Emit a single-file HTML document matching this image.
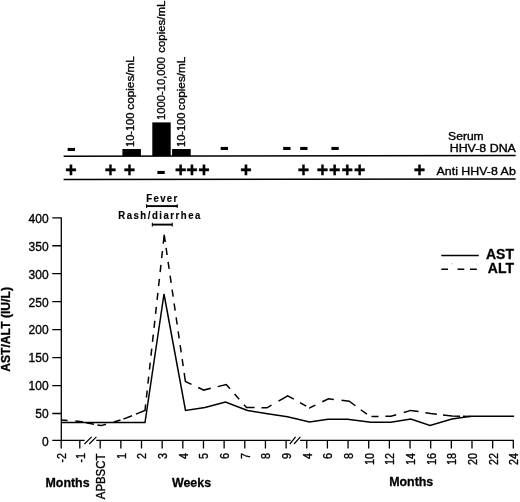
<!DOCTYPE html>
<html><head><meta charset="utf-8"><title>AST/ALT</title>
<style>html,body{margin:0;padding:0;background:#fff}svg{display:block}text{font-family:"Liberation Sans",Arial,sans-serif;fill:#000;stroke:#000;stroke-width:0.35px;stroke-linejoin:round}.b{stroke-width:0.3px}.b{font-weight:bold}</style></head><body>
<svg width="520" height="502" viewBox="0 0 520 502">
<defs><filter id="soft" filterUnits="userSpaceOnUse" x="0" y="0" width="520" height="502"><feGaussianBlur stdDeviation="0.35"/></filter></defs>
<rect width="520" height="502" fill="#fff"/>
<g filter="url(#soft)">
<g stroke="#000" stroke-width="1.5" fill="none">
<line x1="63.6" y1="156.3" x2="515.6" y2="155.6"/>
<line x1="63.6" y1="179.4" x2="515.6" y2="178.9"/>
</g>
<g fill="#000">
<rect x="122.4" y="149" width="18.5" height="7"/>
<rect x="152.3" y="122.4" width="18.4" height="33.6"/>
<rect x="172.1" y="149" width="18.6" height="7"/>
</g>
<g font-weight="bold" text-anchor="middle" style="stroke-width:0">
<text transform="translate(71.25 156.34) scale(1.12 1)" font-size="26" style="stroke-width:0">-</text>
<text transform="translate(224.25 155.4) scale(1.12 1)" font-size="26" style="stroke-width:0">-</text>
<text transform="translate(286.80 155.4) scale(1.12 1)" font-size="26" style="stroke-width:0">-</text>
<text transform="translate(303.80 155.4) scale(1.12 1)" font-size="26" style="stroke-width:0">-</text>
<text transform="translate(335.05 155.4) scale(1.12 1)" font-size="26" style="stroke-width:0">-</text>
<text transform="translate(161.2 179.04) scale(1.12 1)" font-size="26" style="stroke-width:0">-</text>
<text x="71" y="177.2" font-size="19.6" style="stroke-width:0.4px;stroke-linejoin:miter">+</text>
<text x="110.5" y="177.2" font-size="19.6" style="stroke-width:0.4px;stroke-linejoin:miter">+</text>
<text x="129.5" y="177.2" font-size="19.6" style="stroke-width:0.4px;stroke-linejoin:miter">+</text>
<text x="180.8" y="177.2" font-size="19.6" style="stroke-width:0.4px;stroke-linejoin:miter">+</text>
<text x="192" y="177.2" font-size="19.6" style="stroke-width:0.4px;stroke-linejoin:miter">+</text>
<text x="204" y="177.2" font-size="19.6" style="stroke-width:0.4px;stroke-linejoin:miter">+</text>
<text x="246" y="177.2" font-size="19.6" style="stroke-width:0.4px;stroke-linejoin:miter">+</text>
<text x="303.6" y="177.2" font-size="19.6" style="stroke-width:0.4px;stroke-linejoin:miter">+</text>
<text x="322.5" y="177.2" font-size="19.6" style="stroke-width:0.4px;stroke-linejoin:miter">+</text>
<text x="334.8" y="177.2" font-size="19.6" style="stroke-width:0.4px;stroke-linejoin:miter">+</text>
<text x="347.2" y="177.2" font-size="19.6" style="stroke-width:0.4px;stroke-linejoin:miter">+</text>
<text x="359.8" y="177.2" font-size="19.6" style="stroke-width:0.4px;stroke-linejoin:miter">+</text>
<text x="419.5" y="177.2" font-size="19.6" style="stroke-width:0.4px;stroke-linejoin:miter">+</text>
</g>
<text transform="translate(134.2 147.0) rotate(-90) scale(0.96 1)" font-size="11.5">10-100</text>
<text transform="translate(134.2 56.1) rotate(-90) scale(1.024 1)" font-size="11.5" text-anchor="end">copies/mL</text>
<text transform="translate(165.2 120.0) rotate(-90) scale(0.978 1)" font-size="11.5">1000-10,000</text>
<text transform="translate(165.2 0.6) rotate(-90) scale(0.995 1)" font-size="11.5" text-anchor="end">copies/mL</text>
<text transform="translate(184.5 147.0) rotate(-90) scale(0.96 1)" font-size="11.5">10-100</text>
<text transform="translate(184.5 56.6) rotate(-90) scale(1.024 1)" font-size="11.5" text-anchor="end">copies/mL</text>
<text transform="translate(448.1 140.4) scale(1.11 1)" font-size="10.9">Serum</text>
<text transform="translate(515.9 152.4) scale(1.1 1)" font-size="11.3" text-anchor="end">HHV-8 DNA</text>
<text transform="translate(515.8 174.6) scale(1.07 1)" font-size="11.6" text-anchor="end">Anti HHV-8 Ab</text>
<text transform="translate(146.2 201.6) scale(1 1.1)" font-size="9.6" class="b" style="stroke-width:0.15px" letter-spacing="1.37">Fever</text>
<text transform="translate(118.2 218.9) scale(1 1.1)" font-size="9.6" class="b" style="stroke-width:0.15px" letter-spacing="1.52">Rash/diarrhea</text>
<g stroke="#000" fill="none"><path d="M146.3 206.1H177.5" stroke-width="1.9"/><path d="M146.6 204.2V208M177.2 204.2V208" stroke-width="1"/>
<path d="M152 224.6H172.5" stroke-width="1.9"/><path d="M152.3 222.7V226.6M172.2 222.7V226.6" stroke-width="1"/></g>
<g stroke="#000" stroke-width="1.3" fill="none">
<path d="M61.3 217.4V440.3"/>
<path d="M61.1 440.3H84.6M96.2 440.3H290.5M300 440.3H514"/>
<path d="M52.3 440.30H61.3M52.3 413.50H61.3M52.3 385.54H61.3M52.3 357.58H61.3M52.3 329.63H61.3M52.3 301.67H61.3M52.3 273.72H61.3M52.3 245.76H61.3M52.3 217.81H61.3"/>
<path d="M61.20 440.3V448.4M79.80 440.3V448.4M100.20 440.3V448.4M120.86 440.3V448.4M141.51 440.3V448.4M162.17 440.3V448.4M182.82 440.3V448.4M203.48 440.3V448.4M224.13 440.3V448.4M244.79 440.3V448.4M265.44 440.3V448.4M286.10 440.3V448.4M306.75 440.3V448.4M327.41 440.3V448.4M348.06 440.3V448.4M368.71 440.3V448.4M389.37 440.3V448.4M410.03 440.3V448.4M430.68 440.3V448.4M451.33 440.3V448.4M471.99 440.3V448.4M492.65 440.3V448.4M513.30 440.3V448.4"/>
<path d="M84.4 444L91.6 436.8M89.2 444L96.4 436.8M289.8 444L295.6 436.8M294 444L300.4 436.8" stroke-width="1.2"/>
</g>
<text x="48.6" y="446.2" font-size="12" text-anchor="end">0</text>
<text x="48.6" y="418.3" font-size="12" text-anchor="end">50</text>
<text x="48.6" y="390.3" font-size="12" text-anchor="end">100</text>
<text x="48.6" y="362.4" font-size="12" text-anchor="end">150</text>
<text x="48.6" y="334.4" font-size="12" text-anchor="end">200</text>
<text x="48.6" y="306.5" font-size="12" text-anchor="end">250</text>
<text x="48.6" y="278.5" font-size="12" text-anchor="end">300</text>
<text x="48.6" y="250.6" font-size="12" text-anchor="end">350</text>
<text x="48.6" y="222.6" font-size="12" text-anchor="end">400</text>
<text transform="translate(66.1 453.0) rotate(-90) scale(0.9 1)" font-size="12" text-anchor="end">-2</text>
<text transform="translate(84.7 453.0) rotate(-90) scale(0.9 1)" font-size="12" text-anchor="end">-1</text>
<text x="105.1" y="453.6" font-size="12" text-anchor="end" textLength="45.6" lengthAdjust="spacingAndGlyphs" transform="rotate(-90 105.1 453.6)">APBSCT</text>
<text transform="translate(125.8 453.0) rotate(-90) scale(0.9 1)" font-size="12" text-anchor="end">1</text>
<text transform="translate(146.4 453.0) rotate(-90) scale(0.9 1)" font-size="12" text-anchor="end">2</text>
<text transform="translate(167.1 453.0) rotate(-90) scale(0.9 1)" font-size="12" text-anchor="end">3</text>
<text transform="translate(187.7 453.0) rotate(-90) scale(0.9 1)" font-size="12" text-anchor="end">4</text>
<text transform="translate(208.4 453.0) rotate(-90) scale(0.9 1)" font-size="12" text-anchor="end">5</text>
<text transform="translate(229.0 453.0) rotate(-90) scale(0.9 1)" font-size="12" text-anchor="end">6</text>
<text transform="translate(249.7 453.0) rotate(-90) scale(0.9 1)" font-size="12" text-anchor="end">7</text>
<text transform="translate(270.3 453.0) rotate(-90) scale(0.9 1)" font-size="12" text-anchor="end">8</text>
<text transform="translate(291.0 453.0) rotate(-90) scale(0.9 1)" font-size="12" text-anchor="end">9</text>
<text transform="translate(311.6 453.0) rotate(-90) scale(0.9 1)" font-size="12" text-anchor="end">4</text>
<text transform="translate(332.3 453.0) rotate(-90) scale(0.9 1)" font-size="12" text-anchor="end">6</text>
<text transform="translate(353.0 453.0) rotate(-90) scale(0.9 1)" font-size="12" text-anchor="end">8</text>
<text transform="translate(373.6 453.0) rotate(-90) scale(0.9 1)" font-size="12" text-anchor="end">10</text>
<text transform="translate(394.3 453.0) rotate(-90) scale(0.9 1)" font-size="12" text-anchor="end">12</text>
<text transform="translate(414.9 453.0) rotate(-90) scale(0.9 1)" font-size="12" text-anchor="end">14</text>
<text transform="translate(435.6 453.0) rotate(-90) scale(0.9 1)" font-size="12" text-anchor="end">16</text>
<text transform="translate(456.2 453.0) rotate(-90) scale(0.9 1)" font-size="12" text-anchor="end">18</text>
<text transform="translate(476.9 453.0) rotate(-90) scale(0.9 1)" font-size="12" text-anchor="end">20</text>
<text transform="translate(497.5 453.0) rotate(-90) scale(0.9 1)" font-size="12" text-anchor="end">22</text>
<text transform="translate(518.2 453.0) rotate(-90) scale(0.9 1)" font-size="12" text-anchor="end">24</text>
<text x="45.5" y="486.8" font-size="12.4" class="b">Months</text>
<text x="172" y="486.8" font-size="12.4" class="b">Weeks</text>
<text x="389.2" y="486" font-size="12.4" class="b">Months</text>
<text x="10.4" y="371.8" font-size="12.15" class="b" transform="rotate(-90 10.4 371.8)">AST/ALT (IU/L)</text>
<path d="M441.3 255.5H478.8" stroke="#000" stroke-width="1.5" fill="none"/>
<path d="M441.3 269.3H448M457.5 269.3H464.3M470 269.3H476.8" stroke="#000" stroke-width="1.5" fill="none"/>
<rect x="451.7" y="263.4" width="0.8" height="0.8" fill="#555"/>
<text x="514" y="258.8" font-size="14" class="b" text-anchor="end">AST</text>
<text x="514" y="273" font-size="14" class="b" text-anchor="end">ALT</text>
<polyline fill="none" stroke="#000" stroke-width="1.5" stroke-linejoin="miter" points="61.5,422.5 145,422.5 164,294 185.5,410.5 205,407.5 225.5,402 247.5,410.5 267.5,413.75 287.5,416.75 309.5,422 328,419.25 347.5,419.25 370.8,422.2 390.8,422.2 410.8,419 430,425.5 452,419 470.8,416.3 514.1,416.3"/>
<path fill="none" stroke="#000" stroke-width="1.5" stroke-linejoin="miter" d="M61.50 420.00L67.60 420.49M75.30 421.12L80.00 421.50L83.00 422.09M86.00 422.67L94.00 424.23M97.40 424.90L101.00 425.60L106.00 424.18M113.80 421.97L120.50 420.07M123.40 419.14L132.00 415.70M135.90 414.14L145.00 410.50L145.66 404.45M146.41 397.60L147.19 390.50M147.93 383.65L148.71 376.55M149.46 369.70L150.23 362.60M150.98 355.75L151.76 348.65M152.51 341.80L153.28 334.70M154.03 327.85L154.81 320.75M155.56 313.90L156.33 306.80M157.08 299.95L157.86 292.85M158.61 286.00L159.38 278.90M160.13 272.05L160.91 264.95M161.65 258.10L162.43 251.00M163.23 243.70L164.20 234.80L165.24 242.00M166.09 247.90L167.12 255.00M168.10 261.80L169.13 268.90M170.11 275.70L171.14 282.80M172.12 289.60L173.15 296.70M174.13 303.50L175.15 310.60M176.14 317.40L177.16 324.50M178.15 331.30L179.17 338.40M180.15 345.20L181.18 352.30M182.16 359.10L183.19 366.20M184.17 373.00L185.40 381.50L191.50 384.35M198.20 387.48L203.80 390.10L210.80 388.35M217.70 386.62L226.20 384.50L230.00 388.81M234.60 394.02L239.20 399.23M244.00 404.67L246.50 407.50L254.60 407.62M261.50 407.72L267.00 407.80L271.50 405.19M278.50 401.13L287.70 395.80L293.80 399.21M300.00 402.68L306.20 406.15M309.20 407.83L309.50 408.00L315.40 405.14M322.30 401.80L328.50 398.80L333.80 399.41M341.50 400.31L349.20 401.20L355.40 405.76M360.80 409.73L366.90 414.22M371.50 416.49L378.50 416.42M385.40 416.35L391.00 416.30L396.20 414.75M403.80 412.49L410.80 410.40L418.50 411.59M425.40 412.66L430.80 413.50L436.90 414.22M443.00 414.94L452.00 416.00L460.00 416.21M463.00 416.29L470.80 416.50"/>
</g>
</svg></body></html>
